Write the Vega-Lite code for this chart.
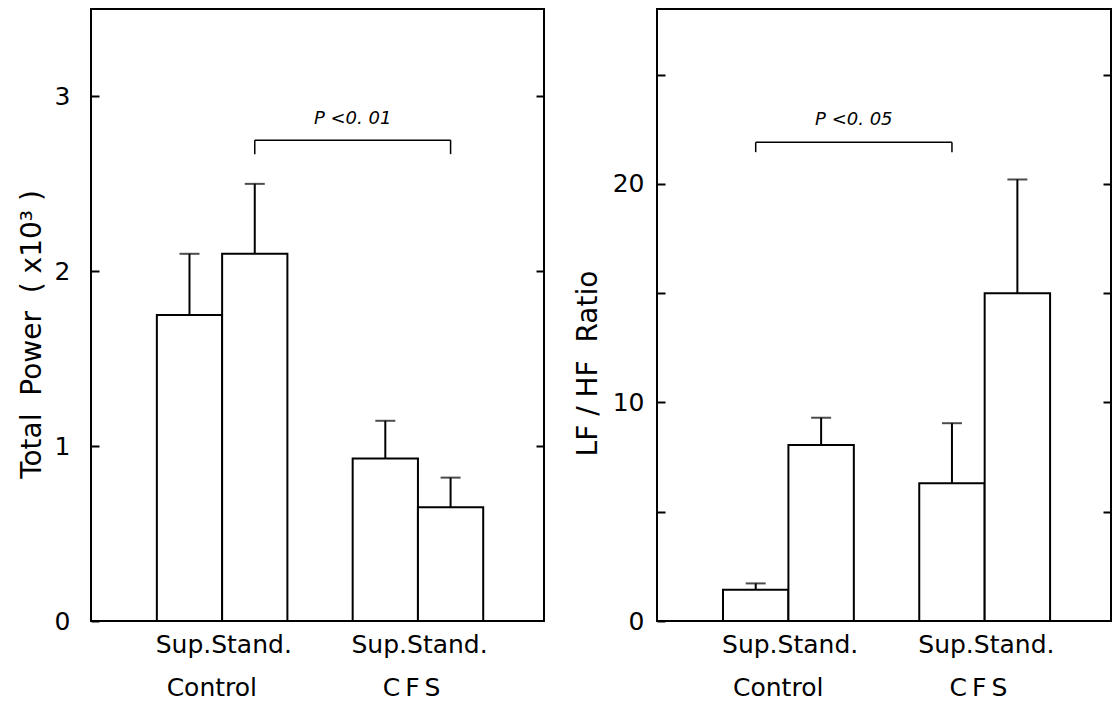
{
  "$schema": "https://vega.github.io/schema/vega-lite/v6.json",
  "padding": {"left": 17, "top": 8, "right": 0, "bottom": 0},
  "background": "white",
  "spacing": 27,
  "config": {
    "view": {"stroke": "black", "strokeWidth": 2},
    "font": "DejaVu Sans",
    "axis": {"labelFont": "DejaVu Sans", "titleFont": "DejaVu Sans", "labelColor": "black", "titleColor": "black", "tickColor": "black", "domain": false, "grid": false, "titleFontWeight": "normal"}
  },
  "hconcat": [
    {
      "width": 453,
      "height": 612,
      "layer": [
        {
          "data": {"values": [
            {"cat": "Control Sup", "value": 1.75, "upper": 2.10},
            {"cat": "Control Stand", "value": 2.10, "upper": 2.50},
            {"cat": "CFS Sup", "value": 0.93, "upper": 1.145},
            {"cat": "CFS Stand", "value": 0.65, "upper": 0.82}
          ]},
          "layer": [
            {
              "mark": {"type": "bar", "fill": "white", "stroke": "black", "strokeWidth": 2},
              "encoding": {
                "x": {"field": "cat", "type": "nominal", "sort": null, "title": null,
                  "scale": {"domain": ["Control Sup", "Control Stand", "gap", "CFS Sup", "CFS Stand"], "paddingInner": 0, "paddingOuter": 0.97, "align": 0.52},
                  "axis": {"ticks": false, "domain": false, "labelAngle": 0, "labelOverlap": false, "labelFontSize": 25, "labelLineHeight": 43, "labelPadding": 11, "labelOffset": -31,
                    "labelExpr": "datum.value == 'Control Stand' ? ['Sup.Stand.', 'Control\u00a0\u00a0\u00a0\u2060'] : datum.value == 'CFS Stand' ? ['Sup.Stand.', 'C\u2009F\u2009S\u00a0\u00a0\u2060'] : ''"}},
                "y": {"field": "value", "type": "quantitative", "scale": {"domain": [0, 3.5], "nice": false},
                  "axis": {"orient": "left", "values": [0, 1, 2, 3], "format": "d", "tickSize": -8, "tickWidth": 2, "labelFontSize": 25, "labelPadding": 29, "title": "Total\u00a0\u00a0Power\u00a0\u00a0(\u00a0x10³\u00a0)", "titleFontSize": 28, "titlePadding": 8, "titleY": 325}}
              }
            },
            {
              "mark": {"type": "rule", "stroke": "black", "strokeWidth": 2},
              "encoding": {
                "x": {"field": "cat", "type": "nominal", "sort": null},
                "y": {"field": "value", "type": "quantitative", "scale": {"domain": [0, 3.5], "nice": false},
                  "axis": {"orient": "right", "values": [1, 2, 3], "labels": false, "tickSize": -8, "tickWidth": 2, "title": null}},
                "y2": {"field": "upper"}
              }
            },
            {
              "mark": {"type": "tick", "color": "black", "thickness": 2},
              "encoding": {
                "x": {"field": "cat", "type": "nominal", "sort": null},
                "y": {"field": "upper", "type": "quantitative", "scale": {"domain": [0, 3.5], "nice": false}, "axis": null},
                "size": {"value": 20}
              }
            }
          ]
        },
        {
          "data": {"values": [{"a": "Control Stand", "b": "CFS Stand", "y": 2.75}]},
          "mark": {"type": "rule", "stroke": "black", "strokeWidth": 1.5},
          "encoding": {
            "x": {"field": "a", "type": "nominal"},
            "x2": {"field": "b"},
            "y": {"field": "y", "type": "quantitative", "scale": {"domain": [0, 3.5], "nice": false}, "axis": null}
          }
        },
        {
          "data": {"values": [{"cat": "Control Stand", "lo": 2.67, "hi": 2.75}, {"cat": "CFS Stand", "lo": 2.67, "hi": 2.75}]},
          "mark": {"type": "rule", "stroke": "black", "strokeWidth": 1.5},
          "encoding": {
            "x": {"field": "cat", "type": "nominal"},
            "y": {"field": "lo", "type": "quantitative", "scale": {"domain": [0, 3.5], "nice": false}, "axis": null},
            "y2": {"field": "hi"}
          }
        },
        {
          "data": {"values": [{"cat": "CFS Sup", "y": 2.87, "label": "P <0. 01"}]},
          "mark": {"type": "text", "fontStyle": "italic", "fontSize": 18, "baseline": "middle", "align": "center"},
          "encoding": {
            "x": {"field": "cat", "type": "nominal", "bandPosition": 0},
            "y": {"field": "y", "type": "quantitative", "scale": {"domain": [0, 3.5], "nice": false}, "axis": null},
            "text": {"field": "label"}
          }
        }
      ],
      "resolve": {"axis": {"y": "independent"}}
    },
    {
      "width": 454,
      "height": 612,
      "layer": [
        {
          "data": {"values": [
            {"cat": "Control Sup", "value": 1.43, "upper": 1.72},
            {"cat": "Control Stand", "value": 8.05, "upper": 9.3},
            {"cat": "CFS Sup", "value": 6.3, "upper": 9.05},
            {"cat": "CFS Stand", "value": 15.0, "upper": 20.2}
          ]},
          "layer": [
            {
              "mark": {"type": "bar", "fill": "white", "stroke": "black", "strokeWidth": 2},
              "encoding": {
                "x": {"field": "cat", "type": "nominal", "sort": null, "title": null,
                  "scale": {"domain": ["Control Sup", "Control Stand", "gap", "CFS Sup", "CFS Stand"], "paddingInner": 0, "paddingOuter": 0.97, "align": 0.52},
                  "axis": {"ticks": false, "domain": false, "labelAngle": 0, "labelOverlap": false, "labelFontSize": 25, "labelLineHeight": 43, "labelPadding": 11, "labelOffset": -31,
                    "labelExpr": "datum.value == 'Control Stand' ? ['Sup.Stand.', 'Control\u00a0\u00a0\u00a0\u2060'] : datum.value == 'CFS Stand' ? ['Sup.Stand.', 'C\u2009F\u2009S\u00a0\u00a0\u2060'] : ''"}},
                "y": {"field": "value", "type": "quantitative", "scale": {"domain": [0, 28], "nice": false},
                  "axis": {"orient": "left", "values": [0, 5, 10, 15, 20, 25], "labelExpr": "datum.value % 10 == 0 ? datum.label : ''", "tickSize": -8, "tickWidth": 2, "labelFontSize": 25, "labelPadding": 21, "title": "LF\u00a0/\u00a0HF\u00a0\u00a0Ratio", "titleFontSize": 28, "titlePadding": 10, "titleY": 354}}
              }
            },
            {
              "mark": {"type": "rule", "stroke": "black", "strokeWidth": 2},
              "encoding": {
                "x": {"field": "cat", "type": "nominal", "sort": null},
                "y": {"field": "value", "type": "quantitative", "scale": {"domain": [0, 28], "nice": false},
                  "axis": {"orient": "right", "values": [5, 10, 15, 20, 25], "labels": false, "tickSize": -8, "tickWidth": 2, "title": null}},
                "y2": {"field": "upper"}
              }
            },
            {
              "mark": {"type": "tick", "color": "black", "thickness": 2},
              "encoding": {
                "x": {"field": "cat", "type": "nominal", "sort": null},
                "y": {"field": "upper", "type": "quantitative", "scale": {"domain": [0, 28], "nice": false}, "axis": null},
                "size": {"value": 20}
              }
            }
          ]
        },
        {
          "data": {"values": [{"a": "Control Sup", "b": "CFS Sup", "y": 21.9}]},
          "mark": {"type": "rule", "stroke": "black", "strokeWidth": 1.5},
          "encoding": {
            "x": {"field": "a", "type": "nominal"},
            "x2": {"field": "b"},
            "y": {"field": "y", "type": "quantitative", "scale": {"domain": [0, 28], "nice": false}, "axis": null}
          }
        },
        {
          "data": {"values": [{"cat": "Control Sup", "lo": 21.45, "hi": 21.9}, {"cat": "CFS Sup", "lo": 21.45, "hi": 21.9}]},
          "mark": {"type": "rule", "stroke": "black", "strokeWidth": 1.5},
          "encoding": {
            "x": {"field": "cat", "type": "nominal"},
            "y": {"field": "lo", "type": "quantitative", "scale": {"domain": [0, 28], "nice": false}, "axis": null},
            "y2": {"field": "hi"}
          }
        },
        {
          "data": {"values": [{"cat": "gap", "y": 22.9, "label": "P <0. 05"}]},
          "mark": {"type": "text", "fontStyle": "italic", "fontSize": 18, "baseline": "middle", "align": "center"},
          "encoding": {
            "x": {"field": "cat", "type": "nominal", "bandPosition": 0},
            "y": {"field": "y", "type": "quantitative", "scale": {"domain": [0, 28], "nice": false}, "axis": null},
            "text": {"field": "label"}
          }
        }
      ],
      "resolve": {"axis": {"y": "independent"}}
    }
  ]
}
